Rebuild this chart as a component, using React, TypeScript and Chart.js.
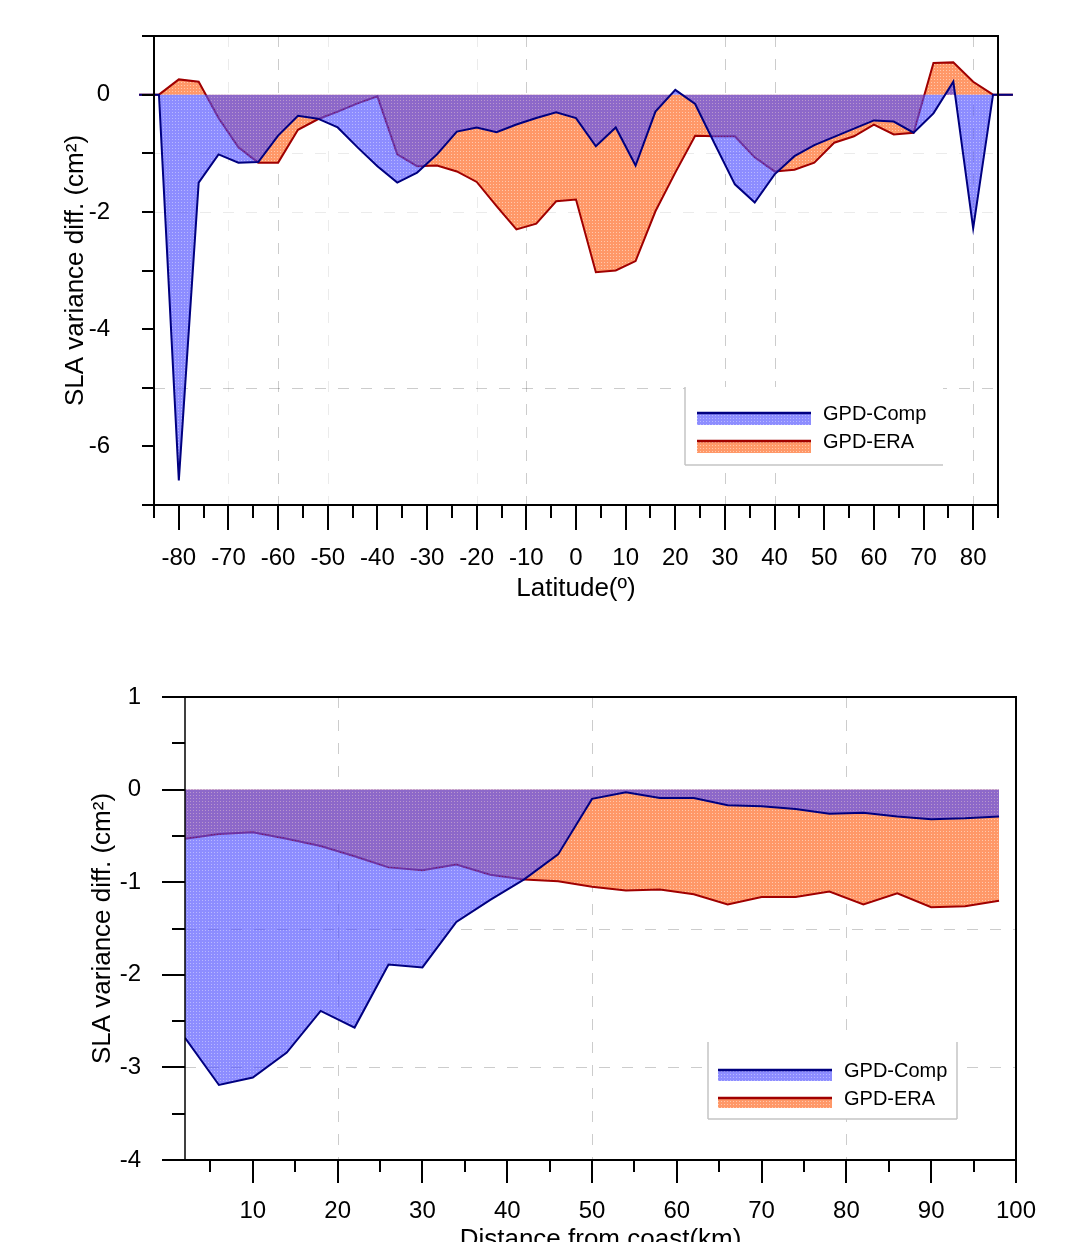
import React, { useEffect, useRef } from 'react';
import { Chart, registerables } from 'chart.js';

Chart.register(...registerables);

const FONT = "'Liberation Sans', Arial, Helvetica, sans-serif";
Chart.defaults.font.family = FONT;

// ---------------- Top panel: by latitude ----------------
const latitudes = [-88, -84, -80, -76, -72, -68, -64, -60, -56, -52, -48, -44, -40, -36, -32, -28, -24, -20, -16, -12, -8, -4, 0, 4, 8, 12, 16, 20, 24, 28, 32, 36, 40, 44, 48, 52, 56, 60, 64, 68, 72, 76, 80, 84, 88];
const latCompDiff = [0, 0, -6.58, -1.5, -1.02, -1.16, -1.15, -0.7, -0.36, -0.41, -0.56, -0.9, -1.22, -1.5, -1.33, -1.02, -0.63, -0.56, -0.64, -0.51, -0.4, -0.3, -0.4, -0.88, -0.56, -1.21, -0.29, 0.08, -0.16, -0.85, -1.53, -1.84, -1.36, -1.05, -0.86, -0.72, -0.58, -0.44, -0.46, -0.65, -0.32, 0.22, -2.28, 0, 0];
const latEraDiff = [0, 0, 0.26, 0.22, -0.4, -0.9, -1.16, -1.16, -0.6, -0.42, -0.29, -0.15, -0.03, -1.02, -1.22, -1.21, -1.31, -1.49, -1.9, -2.3, -2.2, -1.82, -1.79, -3.03, -3.0, -2.84, -1.99, -1.33, -0.7, -0.71, -0.71, -1.07, -1.31, -1.28, -1.16, -0.82, -0.71, -0.51, -0.68, -0.65, 0.54, 0.55, 0.22, 0, 0];
const latTickMarks = [-85, -80, -75, -70, -65, -60, -55, -50, -45, -40, -35, -30, -25, -20, -15, -10, -5, 0, 5, 10, 15, 20, 25, 30, 35, 40, 45, 50, 55, 60, 65, 70, 75, 80, 85];
const latTickLabels = [-80, -70, -60, -50, -40, -30, -20, -10, 0, 10, 20, 30, 40, 50, 60, 70, 80];
const latValueTickMarks = [1, 0, -1, -2, -3, -4, -5, -6, -7];
const latValueTickLabels = [0, -2, -4, -6];

// ---------------- Bottom panel: by distance from coast ----------------
const distances = [2, 6, 10, 14, 18, 22, 26, 30, 34, 38, 42, 46, 50, 54, 58, 62, 66, 70, 74, 78, 82, 86, 90, 94, 98];
const distCompDiff = [-2.68, -3.19, -3.11, -2.84, -2.39, -2.57, -1.89, -1.92, -1.43, -1.19, -0.97, -0.7, -0.1, -0.03, -0.09, -0.09, -0.17, -0.18, -0.21, -0.26, -0.25, -0.29, -0.32, -0.31, -0.29];
const distEraDiff = [-0.53, -0.48, -0.46, -0.53, -0.61, -0.72, -0.84, -0.87, -0.81, -0.92, -0.97, -0.99, -1.05, -1.09, -1.08, -1.13, -1.24, -1.16, -1.16, -1.1, -1.24, -1.12, -1.27, -1.26, -1.2];
const distTickMarks = [5, 10, 15, 20, 25, 30, 35, 40, 45, 50, 55, 60, 65, 70, 75, 80, 85, 90, 95, 100];
const distTickLabels = [10, 20, 30, 40, 50, 60, 70, 80, 90, 100];
const distValueTickMarks = [1, 0.5, 0, -0.5, -1, -1.5, -2, -2.5, -3, -3.5, -4];
const distValueTickLabels = [1, 0, -1, -2, -3, -4];

const seriesNames = ['GPD-Comp', 'GPD-ERA'];

const NAVY = '#000080';
const DARKRED = '#a00000';

type Panel = {
  xs: number[]; comp: number[]; era: number[];
  xMin: number; xMax: number; yMin: number; yMax: number;
  xLabels: number[]; yLabels: number[];
  xTicks: number[]; yTicks: number[];
  xMajor: (v: number) => boolean; yMajor: (v: number) => boolean;
  xTickLen: [number, number]; yTickLen: [number, number];
  gridX: [number, string][]; gridY: [number, string][];
  xTitle: string; yTitle: string;
  padTop: number; padRight: number; xScaleH: number; yScaleW: number;
  xLabelPad: number; yLabelPad: number; xTitlePad: number; yTitlePad: number;
  leftAxisW: number;
  clip: boolean;
  legend: {
    left: number; top: number; right: number; bottom: number; sides: string[];
    sampleL: number; sampleR: number; textX: number;
    rows: { lineY: number; bandH: number; base: number }[];
  };
};

const STRONG = 'rgba(0,0,0,0.2)';
const FAINT = 'rgba(0,0,0,0.08)';

const topPanel: Panel = {
  xs: latitudes, comp: latCompDiff, era: latEraDiff,
  xMin: -85, xMax: 85, yMin: -7, yMax: 1,
  xLabels: latTickLabels, yLabels: latValueTickLabels,
  xTicks: latTickMarks, yTicks: latValueTickMarks,
  xMajor: (v) => v % 10 === 0, yMajor: () => true,
  xTickLen: [25, 13], yTickLen: [12, 12],
  gridX: [[-70, FAINT], [-60, STRONG], [-50, FAINT], [-20, FAINT], [-10, STRONG], [30, STRONG], [40, STRONG], [80, STRONG]],
  gridY: [[-1, FAINT], [-2, FAINT], [-5, STRONG]],
  xTitle: 'Latitude(º)', yTitle: 'SLA variance diff. (cm²)',
  padTop: 36, padRight: 68, xScaleH: 115, yScaleW: 154,
  xLabelPad: 31, yLabelPad: 36, xTitlePad: 16, yTitlePad: 60,
  leftAxisW: 2,
  clip: false,
  legend: {
    left: 685, top: 387, right: 943, bottom: 465, sides: ['left', 'bottom'],
    sampleL: 697, sampleR: 811, textX: 823,
    rows: [{ lineY: 413, bandH: 12, base: 420 }, { lineY: 441, bandH: 12, base: 448 }],
  },
};

const bottomPanel: Panel = {
  xs: distances, comp: distCompDiff, era: distEraDiff,
  xMin: 2, xMax: 100, yMin: -4, yMax: 1,
  xLabels: distTickLabels, yLabels: distValueTickLabels,
  xTicks: distTickMarks, yTicks: distValueTickMarks,
  xMajor: (v) => v % 10 === 0, yMajor: (v) => Number.isInteger(v),
  xTickLen: [23, 12], yTickLen: [23, 13],
  gridX: [[20, STRONG], [50, STRONG], [80, STRONG]],
  gridY: [[-1.5, STRONG], [-3, STRONG]],
  xTitle: 'Distance from coast(km)', yTitle: 'SLA variance diff. (cm²)',
  padTop: 77, padRight: 50, xScaleH: 100, yScaleW: 185,
  xLabelPad: 29, yLabelPad: 36, xTitlePad: 5, yTitlePad: 87,
  leftAxisW: 1.5,
  clip: true,
  legend: {
    left: 708, top: 422, right: 957, bottom: 499, sides: ['left', 'bottom', 'right'],
    sampleL: 718, sampleR: 832, textX: 844,
    rows: [{ lineY: 450, bandH: 11, base: 457 }, { lineY: 478, bandH: 10, base: 485 }],
  },
};

function makePattern(base: string, dot: string): CanvasPattern {
  const c = document.createElement('canvas');
  c.width = 3;
  c.height = 3;
  const g = c.getContext('2d') as CanvasRenderingContext2D;
  g.fillStyle = base;
  g.fillRect(0, 0, 3, 3);
  g.clearRect(1, 1, 1, 1);
  g.fillStyle = dot;
  g.fillRect(1, 1, 1, 1);
  return g.createPattern(c, 'repeat') as CanvasPattern;
}

function framePlugin(p: Panel, pats: CanvasPattern[], id: string) {
  const line = (ctx: CanvasRenderingContext2D, x1: number, y1: number, x2: number, y2: number) => {
    ctx.beginPath();
    ctx.moveTo(x1, y1);
    ctx.lineTo(x2, y2);
    ctx.stroke();
  };
  return {
    id,
    beforeDatasetsDraw(chart: any) {
      const { ctx, chartArea: a, scales } = chart;
      const x = scales.x, y = scales.y;
      ctx.save();
      ctx.lineWidth = 1;
      ctx.setLineDash([11, 12]);
      for (const [v, c] of p.gridX) {
        const px = Math.round(x.getPixelForValue(v)) + 0.5;
        ctx.strokeStyle = c;
        line(ctx, px, a.top, px, a.bottom);
      }
      for (const [v, c] of p.gridY) {
        const py = Math.round(y.getPixelForValue(v)) + 0.5;
        ctx.strokeStyle = c;
        line(ctx, a.left, py, a.right, py);
      }
      ctx.restore();
    },
    afterDatasetsDraw(chart: any) {
      const { ctx, chartArea: a, scales } = chart;
      const x = scales.x, y = scales.y;
      ctx.save();
      ctx.setLineDash([]);
      ctx.strokeStyle = '#000';
      ctx.lineWidth = 2;
      line(ctx, a.left - 1, a.top, a.right + 1, a.top);
      line(ctx, a.right, a.top, a.right, a.bottom + 1);
      line(ctx, a.left - 1, a.bottom, a.right + 1, a.bottom);
      ctx.lineWidth = p.leftAxisW;
      line(ctx, a.left, a.top, a.left, a.bottom);
      ctx.lineWidth = 2;
      for (const v of p.xTicks) {
        const px = Math.round(x.getPixelForValue(v));
        const len = p.xMajor(v) ? p.xTickLen[0] : p.xTickLen[1];
        line(ctx, px, a.bottom, px, a.bottom + len);
      }
      for (const v of p.yTicks) {
        const py = Math.round(y.getPixelForValue(v));
        const len = p.yMajor(v) ? p.yTickLen[0] : p.yTickLen[1];
        line(ctx, a.left - len, py, a.left, py);
      }
      ctx.restore();
    },
    afterDraw(chart: any) {
      const { ctx } = chart;
      const L = p.legend;
      ctx.save();
      ctx.fillStyle = '#fff';
      ctx.fillRect(L.left, L.top, L.right - L.left, L.bottom - L.top);
      ctx.strokeStyle = '#c4c4c4';
      ctx.lineWidth = 1.5;
      if (L.sides.includes('left')) line(ctx, L.left, L.top, L.left, L.bottom);
      if (L.sides.includes('bottom')) line(ctx, L.left, L.bottom, L.right, L.bottom);
      if (L.sides.includes('right')) line(ctx, L.right, L.top, L.right, L.bottom);
      const colors = [NAVY, DARKRED];
      L.rows.forEach((r, i) => {
        ctx.fillStyle = pats[i];
        ctx.fillRect(L.sampleL, r.lineY, L.sampleR - L.sampleL, r.bandH);
        ctx.strokeStyle = colors[i];
        ctx.lineWidth = 2.5;
        line(ctx, L.sampleL, r.lineY, L.sampleR, r.lineY);
        ctx.fillStyle = '#000';
        ctx.font = `20px ${FONT}`;
        ctx.textBaseline = 'alphabetic';
        ctx.textAlign = 'left';
        ctx.fillText(seriesNames[i], L.textX, r.base);
      });
      ctx.restore();
    },
  };
}

function zeroPaddings(s: any) {
  s.paddingTop = 0;
  s.paddingBottom = 0;
  s.paddingLeft = 0;
  s.paddingRight = 0;
}

function buildChart(canvas: HTMLCanvasElement, p: Panel, id: string) {
  const bluePat = makePattern('rgba(77,77,255,0.645)', 'rgba(77,77,255,0.4)');
  const orangePat = makePattern('rgb(255,152,104)', 'rgb(255,200,172)');
  const compSet: any = {
    label: seriesNames[0],
    data: p.xs.map((x, i) => ({ x, y: p.comp[i] })),
    borderColor: NAVY,
    backgroundColor: bluePat,
    fill: 'origin',
    borderWidth: 2,
    pointRadius: 0,
    tension: 0,
  };
  const eraSet: any = {
    label: seriesNames[1],
    data: p.xs.map((x, i) => ({ x, y: p.era[i] })),
    borderColor: DARKRED,
    backgroundColor: orangePat,
    fill: 'origin',
    borderWidth: 2,
    pointRadius: 0,
    tension: 0,
  };
  if (!p.clip) {
    compSet.clip = false;
    eraSet.clip = false;
  }
  return new Chart(canvas, {
    type: 'line',
    data: { datasets: [compSet, eraSet] },
    options: {
      responsive: false,
      animation: false,
      events: [],
      layout: { padding: { top: p.padTop, right: p.padRight, left: 0, bottom: 0 } },
      plugins: { legend: { display: false }, tooltip: { enabled: false } },
      scales: {
        x: {
          type: 'linear',
          min: p.xMin,
          max: p.xMax,
          grid: { display: false },
          border: { display: false },
          ticks: {
            font: { family: FONT, size: 24 },
            color: '#000',
            padding: p.xLabelPad,
            autoSkip: false,
            maxRotation: 0,
            minRotation: 0,
            callback: (v: any) => String(v),
          },
          afterBuildTicks: (s: any) => {
            s.ticks = p.xLabels.map((v) => ({ value: v }));
          },
          afterFit: (s: any) => {
            s.height = p.xScaleH;
            zeroPaddings(s);
          },
          title: {
            display: true,
            text: p.xTitle,
            color: '#000',
            font: { family: FONT, size: 26 },
            padding: { top: 0, bottom: p.xTitlePad },
          },
        },
        y: {
          type: 'linear',
          min: p.yMin,
          max: p.yMax,
          grid: { display: false },
          border: { display: false },
          ticks: {
            font: { family: FONT, size: 24 },
            color: '#000',
            padding: p.yLabelPad,
            autoSkip: false,
            callback: (v: any) => String(v),
          },
          afterBuildTicks: (s: any) => {
            s.ticks = p.yLabels.map((v) => ({ value: v }));
          },
          afterFit: (s: any) => {
            s.width = p.yScaleW;
            zeroPaddings(s);
          },
          title: {
            display: true,
            text: p.yTitle,
            color: '#000',
            font: { family: FONT, size: 26 },
            padding: { top: p.yTitlePad, bottom: 0 },
          },
        },
      },
    } as any,
    plugins: [framePlugin(p, [bluePat, orangePat], id)],
  });
}

export default function App() {
  const topRef = useRef<HTMLCanvasElement>(null);
  const botRef = useRef<HTMLCanvasElement>(null);
  useEffect(() => {
    const c1 = buildChart(topRef.current as HTMLCanvasElement, topPanel, 'frameTop');
    const c2 = buildChart(botRef.current as HTMLCanvasElement, bottomPanel, 'frameBottom');
    return () => {
      c1.destroy();
      c2.destroy();
    };
  }, []);
  return (
    <div style={{ position: 'fixed', left: 0, top: 0, width: 1066, height: 1242, overflow: 'hidden', background: '#fff' }}>
      <canvas ref={topRef} width={1066} height={620} style={{ position: 'absolute', left: 0, top: 0 }} />
      <canvas ref={botRef} width={1066} height={640} style={{ position: 'absolute', left: 0, top: 620 }} />
    </div>
  );
}
